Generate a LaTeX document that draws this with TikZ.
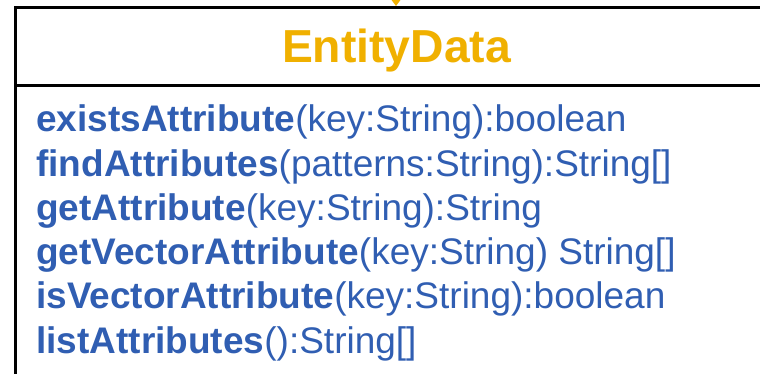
\documentclass[tikz,border=0pt]{standalone}
\usepackage{fontspec}
\setmainfont{Liberation Sans}
\usetikzlibrary{arrows.meta}
\definecolor{umlorange}{RGB}{240,176,0}
\definecolor{umlblue}{RGB}{48,94,178}
\begin{document}
\begin{tikzpicture}[x=1pt,y=1pt,
  classbox/.style={draw=black, line width=3pt},
  classname/.style={text=umlorange, font=\fontsize{46.3}{50}\selectfont\bfseries, anchor=base},
  method/.style={text=umlblue, font=\fontsize{37}{44}\selectfont, anchor=base west},
  assoc/.style={draw=umlorange, line width=1.5pt, -{Triangle[length=7pt,width=10pt]}}]
\tikzstyle{every node}+=[inner sep=0pt]
\useasboundingbox (0,0) rectangle (760,-374);
\clip (0,0) rectangle (760,-374);
\node [classbox, outer sep=0pt, minimum width=800pt, minimum height=420pt, anchor=north west] (entity) at (15,-7.5) {};
\coordinate (sepl) at (15,-85.5);
\coordinate (sepr) at (815,-85.5);
\draw [classbox] (sepl) -- (sepr);
\coordinate (src) at (396,40);
\coordinate (tip) at (396,-6);
\draw [assoc] (src) -- (tip);
\node [classname] (name) at (396.5,-63) {EntityData};
\node [method] (m1) at (36,-132) {\textbf{existsAttribute}(key:String):boolean};
\node [method] (m2) at (36,-176.2) {\textbf{findAttributes}(patterns:String):String[]};
\node [method] (m3) at (36,-220.4) {\textbf{getAttribute}(key:String):String};
\node [method] (m4) at (36,-264.6) {\textbf{getVectorAttribute}(key:String) String[]};
\node [method] (m5) at (36,-308.8) {\textbf{isVectorAttribute}(key:String):boolean};
\node [method] (m6) at (36,-353) {\textbf{listAttributes}():String[]};
\end{tikzpicture}
\end{document}
